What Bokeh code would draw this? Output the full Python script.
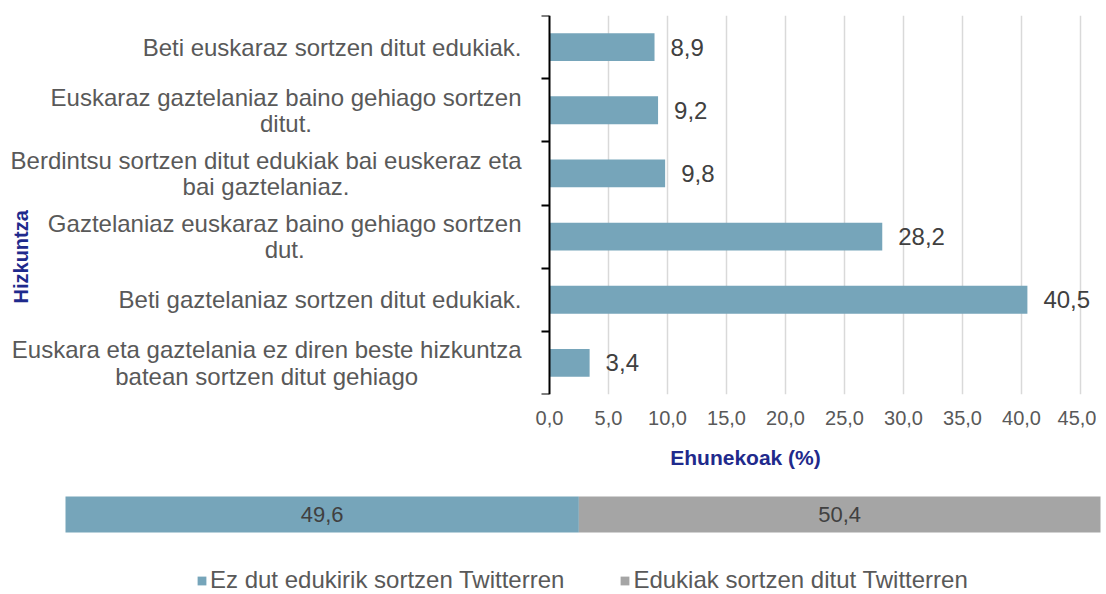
import numpy as np
from bokeh.plotting import figure
from bokeh.models import (Range1d, FixedTicker, Label, LabelSet, Legend, LegendItem,
                          ColumnDataSource)
from bokeh.layouts import column
from bokeh.embed import file_html
from bokeh.resources import INLINE
from bokeh.core.properties import value

# ---------------- data ----------------
categories = [
    "Beti euskaraz sortzen ditut edukiak.",
    "Euskaraz gaztelaniaz baino gehiago sortzen\nditut.",
    "Berdintsu sortzen ditut edukiak bai euskeraz eta\nbai gaztelaniaz.",
    "Gaztelaniaz euskaraz baino gehiago sortzen\ndut.",
    "Beti gaztelaniaz sortzen ditut edukiak.",
    "Euskara eta gaztelania ez diren beste hizkuntza\nbatean sortzen ditut gehiago",
]
percentages = [8.9, 9.2, 9.8, 28.2, 40.5, 3.4]
x_ticks = [0, 5, 10, 15, 20, 25, 30, 35, 40, 45]
x_axis_title = "Ehunekoak (%)"
y_axis_title = "Hizkuntza"

twitter_labels = ["Ez dut edukirik sortzen Twitterren", "Edukiak sortzen ditut Twitterren"]
twitter_values = [49.6, 50.4]

# ---------------- style / layout ----------------
FONT = "Liberation Sans"
BLUE = "#76A5BA"
GRAY = "#A5A5A5"
TITLE_COLOR = "#1F2A8C"
LABEL_COLOR = "#595959"
VALUE_COLOR = "#404040"

FW1 = 1096          # top frame width (px)
ZERO1 = 549         # px from frame left to value 0
PX1 = 531 / 45      # px per percent unit (top)
FW2 = 1104          # bottom frame width
ZERO2 = 65
PX2 = 1035 / 100


def fmt(v):
    return f"{v:.1f}".replace(".", ",")


n = len(categories)
ypos = [n - 0.5 - i for i in range(n)]

# ---------------- top chart ----------------
p1 = figure(frame_width=FW1, frame_height=379,
            x_range=Range1d(-ZERO1 / PX1, (FW1 - ZERO1) / PX1), y_range=Range1d(0, n),
            y_axis_location="right",
            output_backend="svg", toolbar_location=None,
            min_border_left=0, min_border_right=0,
            min_border_top=15, min_border_bottom=40)
p1.outline_line_color = None

src = ColumnDataSource(dict(y=ypos, v=percentages, lbl=[fmt(v) for v in percentages]))
p1.hbar(y="y", left=0, right="v", height=0.44, fill_color=BLUE, line_color=None, source=src)

p1.add_layout(LabelSet(x="v", y="y", text="lbl", source=src, x_offset=16,
                       text_baseline="middle", text_align="left",
                       text_font=value(FONT), text_font_size=value("24px"),
                       text_color=VALUE_COLOR))

# x axis
xa = p1.xaxis[0]
xa.ticker = FixedTicker(ticks=x_ticks)
xa.major_label_overrides = {t: fmt(t) for t in x_ticks}
xa.axis_line_color = None
xa.major_tick_line_color = None
xa.minor_tick_line_color = None
xa.major_label_standoff = 10
xa.major_label_text_font = FONT
xa.major_label_text_font_size = "20px"
xa.major_label_text_color = LABEL_COLOR

# y axis drawn at x = 0, ticks at category boundaries pointing left
ya = p1.yaxis[0]
ya.fixed_location = 0
ya.ticker = FixedTicker(ticks=list(range(n + 1)))
ya.major_label_text_font_size = "0px"
ya.major_label_text_color = None
ya.major_label_standoff = 0
ya.axis_line_color = "black"
ya.axis_line_width = 2
ya.major_tick_line_color = "black"
ya.major_tick_line_width = 2
ya.major_tick_out = 0
ya.major_tick_in = 8
ya.minor_tick_line_color = None

p1.xgrid.grid_line_color = "#D9D9D9"
p1.xgrid.grid_line_width = 1.5
p1.xgrid.ticker = FixedTicker(ticks=x_ticks[1:])
p1.ygrid.grid_line_color = None

for cat, yy in zip(categories, ypos):
    p1.add_layout(Label(x=0, y=yy, x_offset=-28, text=cat, anchor="center_right",
                        text_align="center", text_baseline="middle",
                        text_line_height=0.98,
                        text_font=FONT, text_font_size="24px", text_color=LABEL_COLOR))

p1.add_layout(Label(x=0, y=2.18, x_offset=-529, text=y_axis_title, anchor="center",
                    angle=90, angle_units="deg",
                    text_align="center", text_baseline="middle",
                    text_font=FONT, text_font_size="20px", text_font_style="bold",
                    text_color=TITLE_COLOR))

# ---------------- bottom: axis title, stacked bar, legend ----------------
p2 = figure(frame_width=FW2, frame_height=160,
            x_range=Range1d(-ZERO2 / PX2, (FW2 - ZERO2) / PX2),
            y_range=Range1d(-1.722, 2.722),
            output_backend="svg", toolbar_location=None,
            min_border_left=0, min_border_right=0,
            min_border_top=0, min_border_bottom=0)
p2.outline_line_color = None
p2.axis.visible = False
p2.grid.visible = False

rights = np.cumsum(twitter_values)
lefts = rights - np.array(twitter_values)
src2 = ColumnDataSource(dict(
    left=lefts, right=rights, mid=(lefts + rights) / 2, y=[0.5] * len(twitter_values),
    color=[BLUE, GRAY], lbl=[fmt(v) for v in twitter_values]))
r2 = p2.hbar(y="y", left="left", right="right", height=1, fill_color="color",
             line_color=None, source=src2)
p2.add_layout(LabelSet(x="mid", y="y", text="lbl", source=src2,
                       text_align="center", text_baseline="middle",
                       text_font=value(FONT), text_font_size=value("22px"),
                       text_color=VALUE_COLOR))

p2.add_layout(Label(x=65.7, y=2.08, text=x_axis_title, anchor="center",
                    text_align="center", text_baseline="middle",
                    text_font=FONT, text_font_size="21px", text_font_style="bold",
                    text_color=TITLE_COLOR))

legend = Legend(items=[LegendItem(label=lab, renderers=[r2], index=i)
                       for i, lab in enumerate(twitter_labels)],
                orientation="horizontal", location=(196, 0),
                glyph_width=11, glyph_height=11, label_standoff=3, spacing=55,
                padding=0, margin=0, background_fill_alpha=0, border_line_color=None,
                label_text_font=FONT, label_text_font_size="24px",
                label_text_color=LABEL_COLOR)
p2.add_layout(legend)

layout = column(p1, p2, spacing=0)
open("out.html", "w").write(file_html(layout, INLINE))
